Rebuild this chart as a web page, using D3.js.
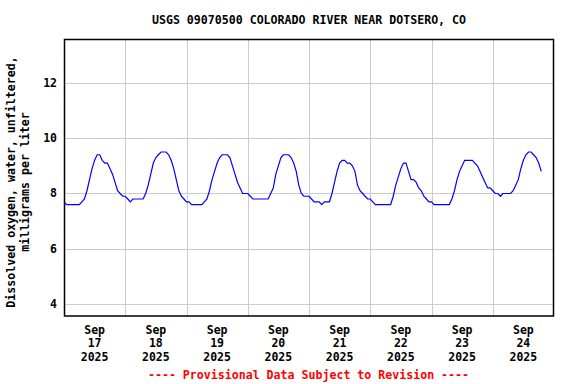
<!DOCTYPE html>
<html>
<head>
<meta charset="utf-8">
<script src="https://cdn.jsdelivr.net/npm/d3@7"></script>
<style>
  html, body { margin: 0; padding: 0; background: #fff; }
  svg { display: block; }
  text { font-family: "DejaVu Sans Mono", "Liberation Mono", monospace; font-weight: bold; }
</style>
</head>
<body>
<svg id="chart" width="576" height="384"></svg>
<script>
const title = "USGS 09070500 COLORADO RIVER NEAR DOTSERO, CO";
const yTitle = ["Dissolved oxygen, water, unfiltered,", "milligrams per liter"];
const footnote = "---- Provisional Data Subject to Revision ----";
const startTime = "2025-09-17T00:00:00Z";
const endTime = "2025-09-25T00:00:00Z";
const dayLabels = [
  ["Sep", "17", "2025"], ["Sep", "18", "2025"], ["Sep", "19", "2025"], ["Sep", "20", "2025"],
  ["Sep", "21", "2025"], ["Sep", "22", "2025"], ["Sep", "23", "2025"], ["Sep", "24", "2025"]
];
const yTicks = [4, 6, 8, 10, 12];
// hourly dissolved oxygen values (mg/L), starting Sep 17 00:00
const values = [
  7.7,7.6,7.6,7.6,7.6,7.6,7.6,7.7,7.8,8.1,8.5,8.9,9.2,9.4,9.4,9.2,9.1,9.1,8.9,8.7,8.4,8.1,8.0,7.9,
  7.9,7.8,7.7,7.8,7.8,7.8,7.8,7.8,8.0,8.3,8.7,9.1,9.3,9.4,9.5,9.5,9.5,9.4,9.2,8.9,8.5,8.1,7.9,7.8,
  7.7,7.7,7.6,7.6,7.6,7.6,7.6,7.7,7.8,8.1,8.5,8.8,9.1,9.3,9.4,9.4,9.4,9.3,9.0,8.7,8.4,8.2,8.0,8.0,
  8.0,7.9,7.8,7.8,7.8,7.8,7.8,7.8,7.8,8.0,8.2,8.7,9.0,9.3,9.4,9.4,9.4,9.3,9.1,8.8,8.3,8.0,7.9,7.9,
  7.9,7.8,7.7,7.7,7.7,7.6,7.7,7.7,7.7,8.0,8.4,8.8,9.1,9.2,9.2,9.1,9.1,9.0,8.8,8.3,8.1,8.0,7.9,7.8,
  7.8,7.7,7.6,7.6,7.6,7.6,7.6,7.6,7.6,7.9,8.3,8.6,8.9,9.1,9.1,8.8,8.5,8.5,8.4,8.2,8.1,7.9,7.8,7.7,
  7.7,7.6,7.6,7.6,7.6,7.6,7.6,7.6,7.8,8.1,8.5,8.8,9.0,9.2,9.2,9.2,9.2,9.1,9.0,8.8,8.6,8.4,8.2,8.2,
  8.1,8.0,8.0,7.9,8.0,8.0,8.0,8.0,8.1,8.3,8.5,8.9,9.2,9.4,9.5,9.5,9.4,9.3,9.1,8.8
];

const svg = d3.select("#chart");
const L = 64, R = 554, T = 40, B = 316;
const t0 = new Date(startTime), t1 = new Date(endTime);
const x = d3.scaleUtc().domain([t0, t1]).range([L, R]);
const y = d3.scaleLinear().domain([3.57, 13.55]).range([B, T]);

const data = values.map((v, i) => ({ t: d3.utcHour.offset(t0, i), v }));
const days = d3.utcDay.range(t0, t1);

// grid
const g = svg.append("g");
g.selectAll(".vg").data(days.slice(1)).enter().append("line")
  .attr("x1", d => Math.round(x(d)) + 0.5).attr("x2", d => Math.round(x(d)) + 0.5)
  .attr("y1", T).attr("y2", B).attr("stroke", "#cccccc").attr("stroke-width", 1);
g.selectAll(".hg").data(yTicks).enter().append("line")
  .attr("x1", L).attr("x2", R)
  .attr("y1", d => Math.round(y(d)) + 0.5).attr("y2", d => Math.round(y(d)) + 0.5)
  .attr("stroke", "#cccccc").attr("stroke-width", 1);

// data line
svg.append("path").datum(data)
  .attr("fill", "none").attr("stroke", "#0000ff").attr("stroke-width", 1.2)
  .attr("d", d3.line().x(d => x(d.t)).y(d => y(d.v)).curve(d3.curveLinear));

// frame
svg.append("rect").attr("x", L + 0.5).attr("y", T - 0.5).attr("width", R - L - 1).attr("height", B - T + 0.5)
  .attr("fill", "none").attr("stroke", "#000").attr("stroke-width", 1.5);

// y tick labels
svg.selectAll(".yl").data(yTicks).enter().append("text")
  .attr("x", 57).attr("y", d => y(d) + 4).attr("text-anchor", "end")
  .attr("font-size", "11.5px").attr("fill", "#000").text(d => d);

// x labels
days.forEach((d, i) => {
  const cx = x(d3.utcHour.offset(d, 12));
  dayLabels[i].forEach((s, j) => {
    svg.append("text").attr("x", cx).attr("y", 334 + j * 13.3)
      .attr("text-anchor", "middle").attr("font-size", "11.5px").attr("fill", "#000").text(s);
  });
});

// title
svg.append("text").attr("x", 309).attr("y", 24).attr("text-anchor", "middle")
  .attr("font-size", "11.6px").attr("fill", "#000").text(title);

// y title
yTitle.forEach((s, j) => {
  svg.append("text").attr("transform", `translate(${15 + j * 14},182) rotate(-90)`)
    .attr("text-anchor", "middle").attr("font-size", "11.6px").attr("fill", "#000").text(s);
});

// footnote
svg.append("text").attr("x", 308.5).attr("y", 379).attr("text-anchor", "middle")
  .attr("font-size", "11.6px").attr("fill", "#ff0000").text(footnote);
</script>
</body>
</html>
